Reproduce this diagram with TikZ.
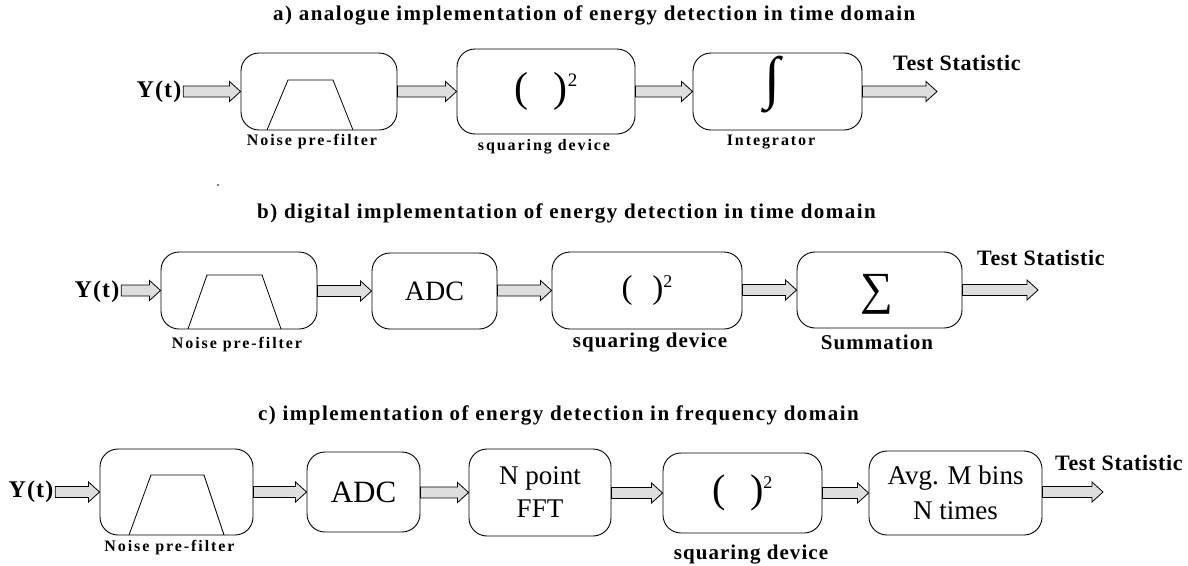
\documentclass[tikz,border=0pt]{standalone}
\usepackage{fontspec}
\setmainfont{Liberation Serif}
\usetikzlibrary{calc}
\definecolor{arrowgray}{RGB}{222,222,222}
\newcommand{\fs}[1]{\fontsize{#1}{#1}\selectfont}
\newcommand{\sqtext}[2]{\fs{#1}(\hspace{0.6em})\raisebox{0.36em}{\fs{#2}2}}
\newcommand{\blockarrow}[2]{%
  \path[barrow] let \p1=(#1), \p2=(#2) in
    (\x1,\y2+5.5pt) -- (\x2-11pt,\y2+5.5pt) -- (\x2-11pt,\y2+10pt) -- (\x2,\y2)
    -- (\x2-11pt,\y2-10pt) -- (\x2-11pt,\y2-5.5pt) -- (\x1,\y2-5.5pt) -- cycle;}
\begin{document}
\begin{tikzpicture}[x=1pt,y=-1pt,
  box/.style={draw=black, line width=0.9pt, rounded corners=18pt, inner sep=0pt, align=center},
  barrow/.style={draw=black, fill=arrowgray, line width=0.8pt},
  trap/.style={draw=black, line width=0.8pt},
  ttl/.style={anchor=west, inner sep=0pt, font=\fs{21}\bfseries\addfontfeature{LetterSpace=7}},
  yt/.style={inner sep=1.5pt, font=\fs{24}\bfseries\addfontfeature{LetterSpace=5}},
  lbl/.style={inner sep=0pt, font=\fs{16}\bfseries\addfontfeature{LetterSpace=12}},
  biglbl/.style={inner sep=0pt, font=\fs{21}\bfseries\addfontfeature{LetterSpace=5}},
  tst/.style={anchor=west, inner sep=0pt, font=\fs{22}\bfseries\addfontfeature{LetterSpace=3}}
]
\useasboundingbox (0,0) rectangle (1188,565);

% ---------- row a ----------
\node[ttl] (ta) at (273,15) {a) analogue implementation of energy detection in time domain};
\node[yt] (ya) at (159,92) {Y(t)};
\node[box, minimum width=156pt, minimum height=77pt] (fa) at (319,91.5) {};
\draw[trap] (267,130) -- (288,80) -- (333,80) -- (353,130);
\node[lbl] (lfa) at (312,142) {Noise pre-filter};
\node[box, minimum width=178pt, minimum height=85pt] (sqa) at (546,91.5) {\sqtext{42}{19}};
\node[lbl] (lsqa) at (544,147) {squaring device};
\node[box, minimum width=169pt, minimum height=77pt] (ia) at (777.5,91.5) {};
\node[inner sep=0pt] (intsym) at (772,85) {\fs{58}∫};
\node[lbl] (lia) at (771,142) {Integrator};
\coordinate (oa) at (937,91.5);
\node[tst] (tsa) at (893,63) {Test Statistic};
\blockarrow{ya.east}{fa.west}
\blockarrow{fa.east}{sqa.west}
\blockarrow{sqa.east}{ia.west}
\blockarrow{ia.east}{oa}
\fill (218,185) circle (0.8pt);

% ---------- row b ----------
\node[ttl] (tb) at (257,213) {b) digital implementation of energy detection in time domain};
\node[yt] (yb) at (97,292) {Y(t)};
\node[box, minimum width=156pt, minimum height=77pt] (fb) at (239,290.5) {};
\draw[trap] (188,329) -- (207,275) -- (262,275) -- (281,329);
\node[lbl] (lfb) at (237,345) {Noise pre-filter};
\node[box, minimum width=125pt, minimum height=76pt, font=\fs{28}] (adcb) at (434.5,291) {ADC};
\node[box, minimum width=190pt, minimum height=77pt] (sqb) at (647,290.5) {\sqtext{33}{18}};
\node[biglbl] (lsqb) at (650,343) {squaring device};
\node[box, minimum width=165pt, minimum height=76pt] (sumb) at (879.5,290) {};
\node[inner sep=0pt] (sumsym) at (877,294) {\fs{46}∑};
\node[biglbl] (lsumb) at (877,342) {Summation};
\coordinate (ob) at (1038,290);
\node[tst] (tsb) at (977,258) {Test Statistic};
\blockarrow{yb.east}{fb.west}
\blockarrow{fb.east}{adcb.west}
\blockarrow{adcb.east}{sqb.west}
\blockarrow{sqb.east}{sumb.west}
\blockarrow{sumb.east}{ob}

% ---------- row c ----------
\node[ttl] (tc) at (258,415) {c) implementation of energy detection in frequency domain};
\node[yt] (yc) at (31,492) {Y(t)};
\node[box, minimum width=153pt, minimum height=86pt] (fc) at (176.5,492) {};
\draw[trap] (129,535) -- (151,475) -- (204,475) -- (224,535);
\node[lbl] (lfc) at (169.5,548) {Noise pre-filter};
\node[box, minimum width=113pt, minimum height=80pt, font=\fs{31}] (adcc) at (363.5,492) {ADC};
\node[box, minimum width=142pt, minimum height=87pt, font=\fontsize{27}{33}\selectfont] (fft) at (540,492.5) {N point\\FFT};
\node[box, minimum width=159pt, minimum height=80pt] (sqc) at (742.5,493) {\sqtext{40}{18}};
\node[biglbl] (lsqc) at (751,555) {squaring device};
\node[box, minimum width=173pt, minimum height=84pt, font=\fontsize{27}{35}\selectfont] (avg) at (955.5,493) {Avg. M bins\\N times};
\coordinate (oc) at (1103,492);
\node[tst] (tsc) at (1055,463) {Test Statistic};
\blockarrow{yc.east}{fc.west}
\blockarrow{fc.east}{adcc.west}
\blockarrow{adcc.east}{fft.west}
\blockarrow{fft.east}{sqc.west}
\blockarrow{sqc.east}{avg.west}
\blockarrow{avg.east}{oc}
\end{tikzpicture}
\end{document}
